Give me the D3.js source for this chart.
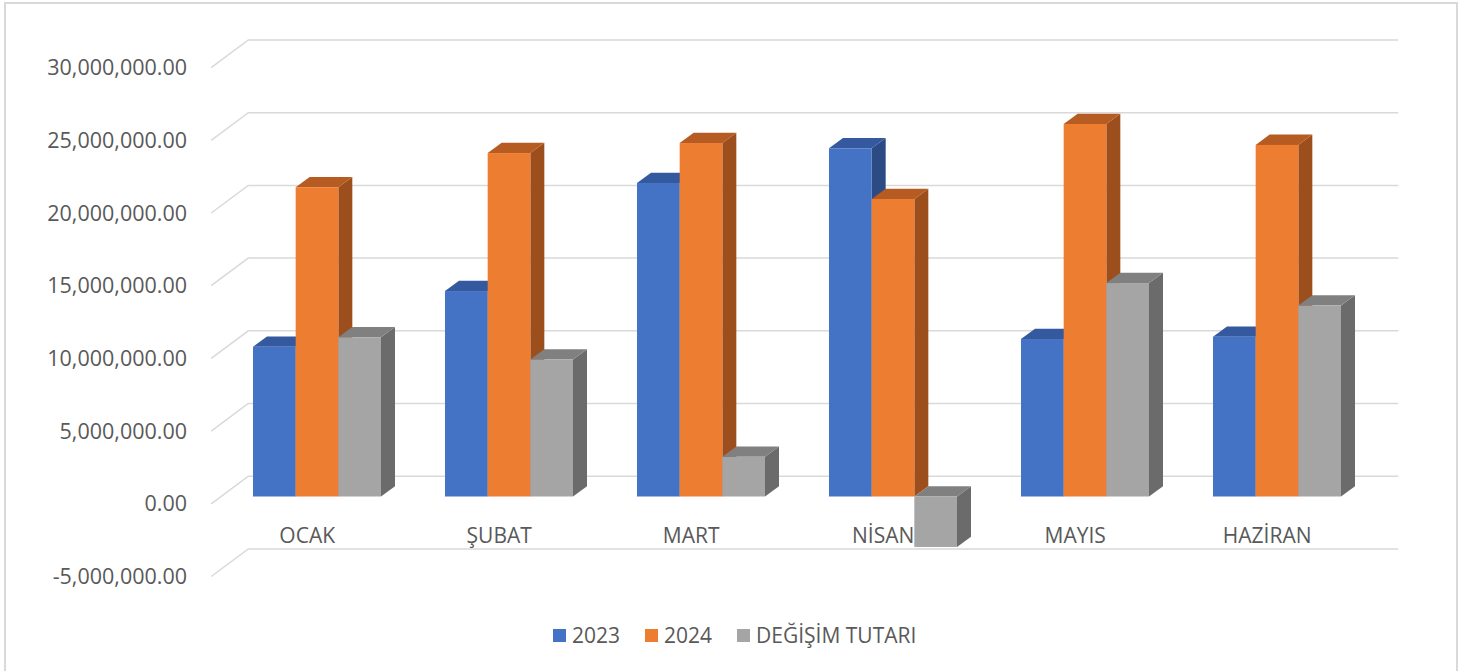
<!DOCTYPE html>
<html>
<head>
<meta charset="utf-8">
<script src="https://cdn.jsdelivr.net/npm/d3@7"></script>
<style>
  body { margin: 0; background: #fff; }
  svg { font-family: "Open Sans", "Noto Sans", sans-serif; }
</style>
</head>
<body>
<svg width="1475" height="671"></svg>
<script>
// data
var months = ["OCAK", "ŞUBAT", "MART", "NİSAN", "MAYIS", "HAZİRAN"];
var seriesNames = ["2023", "2024", "DEĞİŞİM TUTARI"];
var values2023 = [10300000, 14130000, 21560000, 23950000, 10830000, 10990000];
var values2024 = [21270000, 23620000, 24310000, 20460000, 25620000, 24180000];
var valuesDiff = [10950000, 9420000, 2730000, -3470000, 14680000, 13130000];
var yTicks = [-5000000, 0, 5000000, 10000000, 15000000, 20000000, 25000000, 30000000];

var fronts = ["#4472C4", "#ED7D31", "#A5A5A5"];
var tops   = ["#34599E", "#B65B22", "#808080"];
var sides  = ["#2C4B85", "#9C4F1D", "#6B6B6B"];

var svg = d3.select('svg');

// outer border
svg.append('rect')
    .attr('x', 5).attr('y', 3)
    .attr('width', 1452).attr('height', 680)
    .attr('fill', 'none')
    .attr('stroke', '#D9D9D9')
    .attr('stroke-width', 2);

// scales are on the plane of the bars' front faces
var scaleY = d3.scaleLinear().domain([-5000000, 30000000]).range([569.2, 60.3]);
var scaleX = d3.scaleBand().domain(months).range([221, 1373])
    .paddingInner(1 / 3).paddingOuter(1 / 6);
var scaleS = d3.scaleBand().domain(seriesNames).range([0, scaleX.bandwidth()]);

// offsets of the other planes
var back = {dx: 27.3, dy: -20.3};
var front = {dx: -9.8, dy: 7.3};
var depth = {dx: 14, dy: -10.3};

var grid = svg.append('g');
yTicks.forEach(function(t) {
    var y = scaleY(t);
    grid.append('polyline')
        .attr('points', [
            [scaleX.range()[0] + front.dx, y + front.dy],
            [scaleX.range()[0] + back.dx, y + back.dy],
            [scaleX.range()[1] + back.dx - 2, y + back.dy]
        ].join(' '))
        .attr('fill', 'none')
        .attr('stroke', '#D9D9D9')
        .attr('stroke-width', 1.5);
});

// y axis labels
var fmt = d3.format(',.2f');
svg.append('g').selectAll('text')
    .data(yTicks)
    .enter()
    .append('text')
    .attr('x', 187)
    .attr('y', function(d) { return scaleY(d) + front.dy; })
    .attr('dy', '0.35em')
    .attr('text-anchor', 'end')
    .attr('font-size', 21.5)
    .attr('fill', '#595959')
    .text(function(d) { return fmt(d).replace('\u2212', '-'); });

// category labels
svg.append('g').selectAll('text')
    .data(months)
    .enter()
    .append('text')
    .attr('x', function(d) { return scaleX(d) + scaleX.bandwidth() / 2 + front.dx; })
    .attr('y', 536)
    .attr('dy', '0.35em')
    .attr('text-anchor', 'middle')
    .attr('font-size', 21)
    .attr('fill', '#595959')
    .text(function(d) { return d; });

// bars, drawn left to right so later bars cover earlier side faces
var bars = [];
months.forEach(function(m, i) {
    [values2023[i], values2024[i], valuesDiff[i]].forEach(function(v, s) {
        bars.push({month: m, series: s, value: v});
    });
});

var barG = svg.append('g');
bars.forEach(function(d) {
    var x0 = scaleX(d.month) + scaleS(seriesNames[d.series]);
    var x1 = x0 + scaleS.bandwidth();
    var yTop = scaleY(Math.max(d.value, 0));
    var yBot = scaleY(Math.min(d.value, 0));
    var g = barG.append('g');
    // side
    g.append('polygon')
        .attr('points', [[x1, yTop], [x1 + depth.dx, yTop + depth.dy],
            [x1 + depth.dx, yBot + depth.dy], [x1, yBot]].join(' '))
        .attr('fill', sides[d.series]);
    // top
    g.append('polygon')
        .attr('points', [[x0, yTop], [x0 + depth.dx, yTop + depth.dy],
            [x1 + depth.dx, yTop + depth.dy], [x1, yTop]].join(' '))
        .attr('fill', tops[d.series]);
    // front
    g.append('rect')
        .attr('x', x0).attr('y', yTop)
        .attr('width', x1 - x0).attr('height', yBot - yTop)
        .attr('fill', fronts[d.series]);
});

// legend
var legendX = [553, 645, 737];
var legend = svg.append('g');
seriesNames.forEach(function(n, i) {
    legend.append('rect')
        .attr('x', legendX[i]).attr('y', 629)
        .attr('width', 13).attr('height', 13)
        .attr('fill', fronts[i]);
    legend.append('text')
        .attr('x', legendX[i] + 19).attr('y', 635.5)
        .attr('dy', '0.35em')
        .attr('font-size', 21)
        .attr('fill', '#595959')
        .text(n);
});
</script>
</body>
</html>
